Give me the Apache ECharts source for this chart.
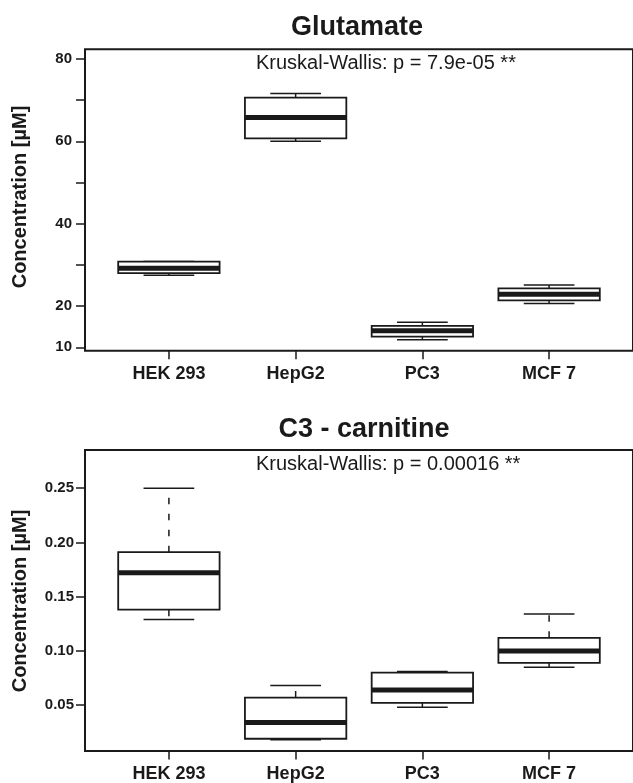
<!DOCTYPE html>
<html>
<head>
    <meta charset="utf-8">
    <title>Glutamate / C3 - carnitine</title>
    <script src="https://cdn.jsdelivr.net/npm/echarts@6/dist/echarts.min.js"></script>
    <style>
        body { margin: 0; background: #fff; }
    </style>
</head>
<body>
<div id="main" style="width: 633px;height:783px;"></div>
<script type="text/javascript">
    // cell lines (x positions 1..4)
    var cellLines = ['HEK 293', 'HepG2', 'PC3', 'MCF 7'];

    // Glutamate: whisker low, Q1, median, Q3, whisker high
    var gluLow  = [27.5, 60.0, 11.8, 20.6];
    var gluQ1   = [28.0, 60.7, 12.6, 21.4];
    var gluMed  = [29.2, 65.8, 14.0, 22.9];
    var gluQ3   = [30.8, 70.6, 15.2, 24.3];
    var gluHigh = [30.8, 71.6, 16.1, 25.1];
    var gluTicks  = [10, 20, 30, 40, 50, 60, 70, 80];
    var gluLabels = [10, 20, 40, 60, 80];

    // C3 - carnitine
    var c3Low  = [0.129, 0.018, 0.048, 0.085];
    var c3Q1   = [0.138, 0.019, 0.052, 0.089];
    var c3Med  = [0.172, 0.034, 0.064, 0.100];
    var c3Q3   = [0.191, 0.057, 0.080, 0.112];
    var c3High = [0.250, 0.068, 0.081, 0.134];
    var c3Ticks  = [0.05, 0.10, 0.15, 0.20, 0.25];
    var c3Labels = [0.05, 0.10, 0.15, 0.20, 0.25];

    var ink = '#1a1a1a';
    var font = '"Liberation Sans", Arial, Helvetica, sans-serif';

    function rows(low, q1, med, q3, high) {
        var out = [];
        for (var i = 0; i < low.length; i++) {
            out.push([i + 1, low[i], q1[i], med[i], q3[i], high[i]]);
        }
        return out;
    }

    // R style box: half-width staples, dashed whiskers, thick median
    function renderBox(params, api) {
        var x = api.value(0);
        var pLow = api.coord([x, api.value(1)]);
        var pQ1 = api.coord([x, api.value(2)]);
        var pMed = api.coord([x, api.value(3)]);
        var pQ3 = api.coord([x, api.value(4)]);
        var pHigh = api.coord([x, api.value(5)]);
        var boxW = api.size([0.8, 0])[0];
        var capW = boxW / 2;
        var cx = pMed[0];
        var solid = {stroke: ink, lineWidth: 1.5};
        var dashed = {stroke: ink, lineWidth: 1.5, lineDash: [6.5, 9.5]};
        return {
            type: 'group',
            children: [
                {type: 'line', shape: {x1: cx, y1: pQ3[1], x2: cx, y2: pHigh[1]}, style: dashed},
                {type: 'line', shape: {x1: cx, y1: pQ1[1], x2: cx, y2: pLow[1]}, style: dashed},
                {type: 'line', shape: {x1: cx - capW / 2, y1: pHigh[1], x2: cx + capW / 2, y2: pHigh[1]}, style: solid},
                {type: 'line', shape: {x1: cx - capW / 2, y1: pLow[1], x2: cx + capW / 2, y2: pLow[1]}, style: solid},
                {type: 'rect', shape: {x: cx - boxW / 2, y: pQ3[1], width: boxW, height: pQ1[1] - pQ3[1]},
                    style: {fill: '#fff', stroke: ink, lineWidth: 1.8}},
                {type: 'line', shape: {x1: cx - boxW / 2, y1: pMed[1], x2: cx + boxW / 2, y2: pMed[1]},
                    style: {stroke: ink, lineWidth: 5}}
            ]
        };
    }

    function xAxisFor(gridIndex) {
        return {
            type: 'value', gridIndex: gridIndex, min: 0.338, max: 4.662,
            axisLine: {show: false, onZero: false},
            axisTick: {customValues: [1, 2, 3, 4], length: 8.5, lineStyle: {color: ink, width: 1.5}},
            axisLabel: {
                customValues: [1, 2, 3, 4], margin: 14, color: ink,
                fontFamily: font, fontSize: 18, fontWeight: 'bold',
                formatter: function (v) { return cellLines[Math.round(v) - 1]; }
            },
            splitLine: {show: false}
        };
    }

    function yAxisFor(gridIndex, min, max, ticks, labels, digits, margin) {
        return {
            type: 'value', gridIndex: gridIndex, min: min, max: max,
            axisLine: {show: false, onZero: false},
            axisTick: {customValues: ticks, length: 9, lineStyle: {color: ink, width: 1.5}},
            axisLabel: {
                customValues: labels, margin: margin, color: ink,
                fontFamily: font, fontSize: 15, fontWeight: 'bold',
                formatter: function (v) { return v.toFixed(digits); }
            },
            splitLine: {show: false}
        };
    }

    function label(text, x, y, size, weight, rotate) {
        return {
            type: 'text', x: x, y: y, rotation: rotate || 0, silent: true,
            style: {
                text: text, fill: ink, textAlign: 'center', textVerticalAlign: 'middle',
                font: weight + ' ' + size + 'px ' + font
            }
        };
    }

    var myChart = echarts.init(document.getElementById('main'));

    var option = {
        animation: false,
        backgroundColor: '#fff',
        grid: [
            {left: 85, top: 49.3, right: -10, bottom: 432.3, show: true, borderColor: ink, borderWidth: 2},
            {left: 85, top: 450, right: -10, bottom: 31.3, show: true, borderColor: ink, borderWidth: 2}
        ],
        xAxis: [xAxisFor(0), xAxisFor(1)],
        yAxis: [
            yAxisFor(0, 9.17, 82.35, gluTicks, gluLabels, 0, 13),
            yAxisFor(1, 0.0077, 0.2852, c3Ticks, c3Labels, 2, 11)
        ],
        graphic: [
            label('Glutamate', 357, 27.5, 27, 'bold'),
            label('C3 - carnitine', 364, 429.2, 27, 'bold'),
            {
                type: 'text', x: 256, y: 63.8, silent: true,
                style: {text: 'Kruskal-Wallis: p = 7.9e-05 **', fill: ink, textVerticalAlign: 'middle',
                    font: 'normal 20px ' + font}
            },
            {
                type: 'text', x: 256, y: 464.5, silent: true,
                style: {text: 'Kruskal-Wallis: p = 0.00016 **', fill: ink, textVerticalAlign: 'middle',
                    font: 'normal 20px ' + font}
            },
            label('Concentration [\u00b5M]', 20, 197, 20, 'bold', Math.PI / 2),
            label('Concentration [\u00b5M]', 20, 601, 20, 'bold', Math.PI / 2)
        ],
        series: [
            {
                type: 'custom', xAxisIndex: 0, yAxisIndex: 0,
                renderItem: renderBox,
                encode: {x: 0, y: [1, 2, 3, 4, 5]},
                data: rows(gluLow, gluQ1, gluMed, gluQ3, gluHigh)
            },
            {
                type: 'custom', xAxisIndex: 1, yAxisIndex: 1,
                renderItem: renderBox,
                encode: {x: 0, y: [1, 2, 3, 4, 5]},
                data: rows(c3Low, c3Q1, c3Med, c3Q3, c3High)
            }
        ]
    };

    myChart.setOption(option);
</script>
</body>
</html>
